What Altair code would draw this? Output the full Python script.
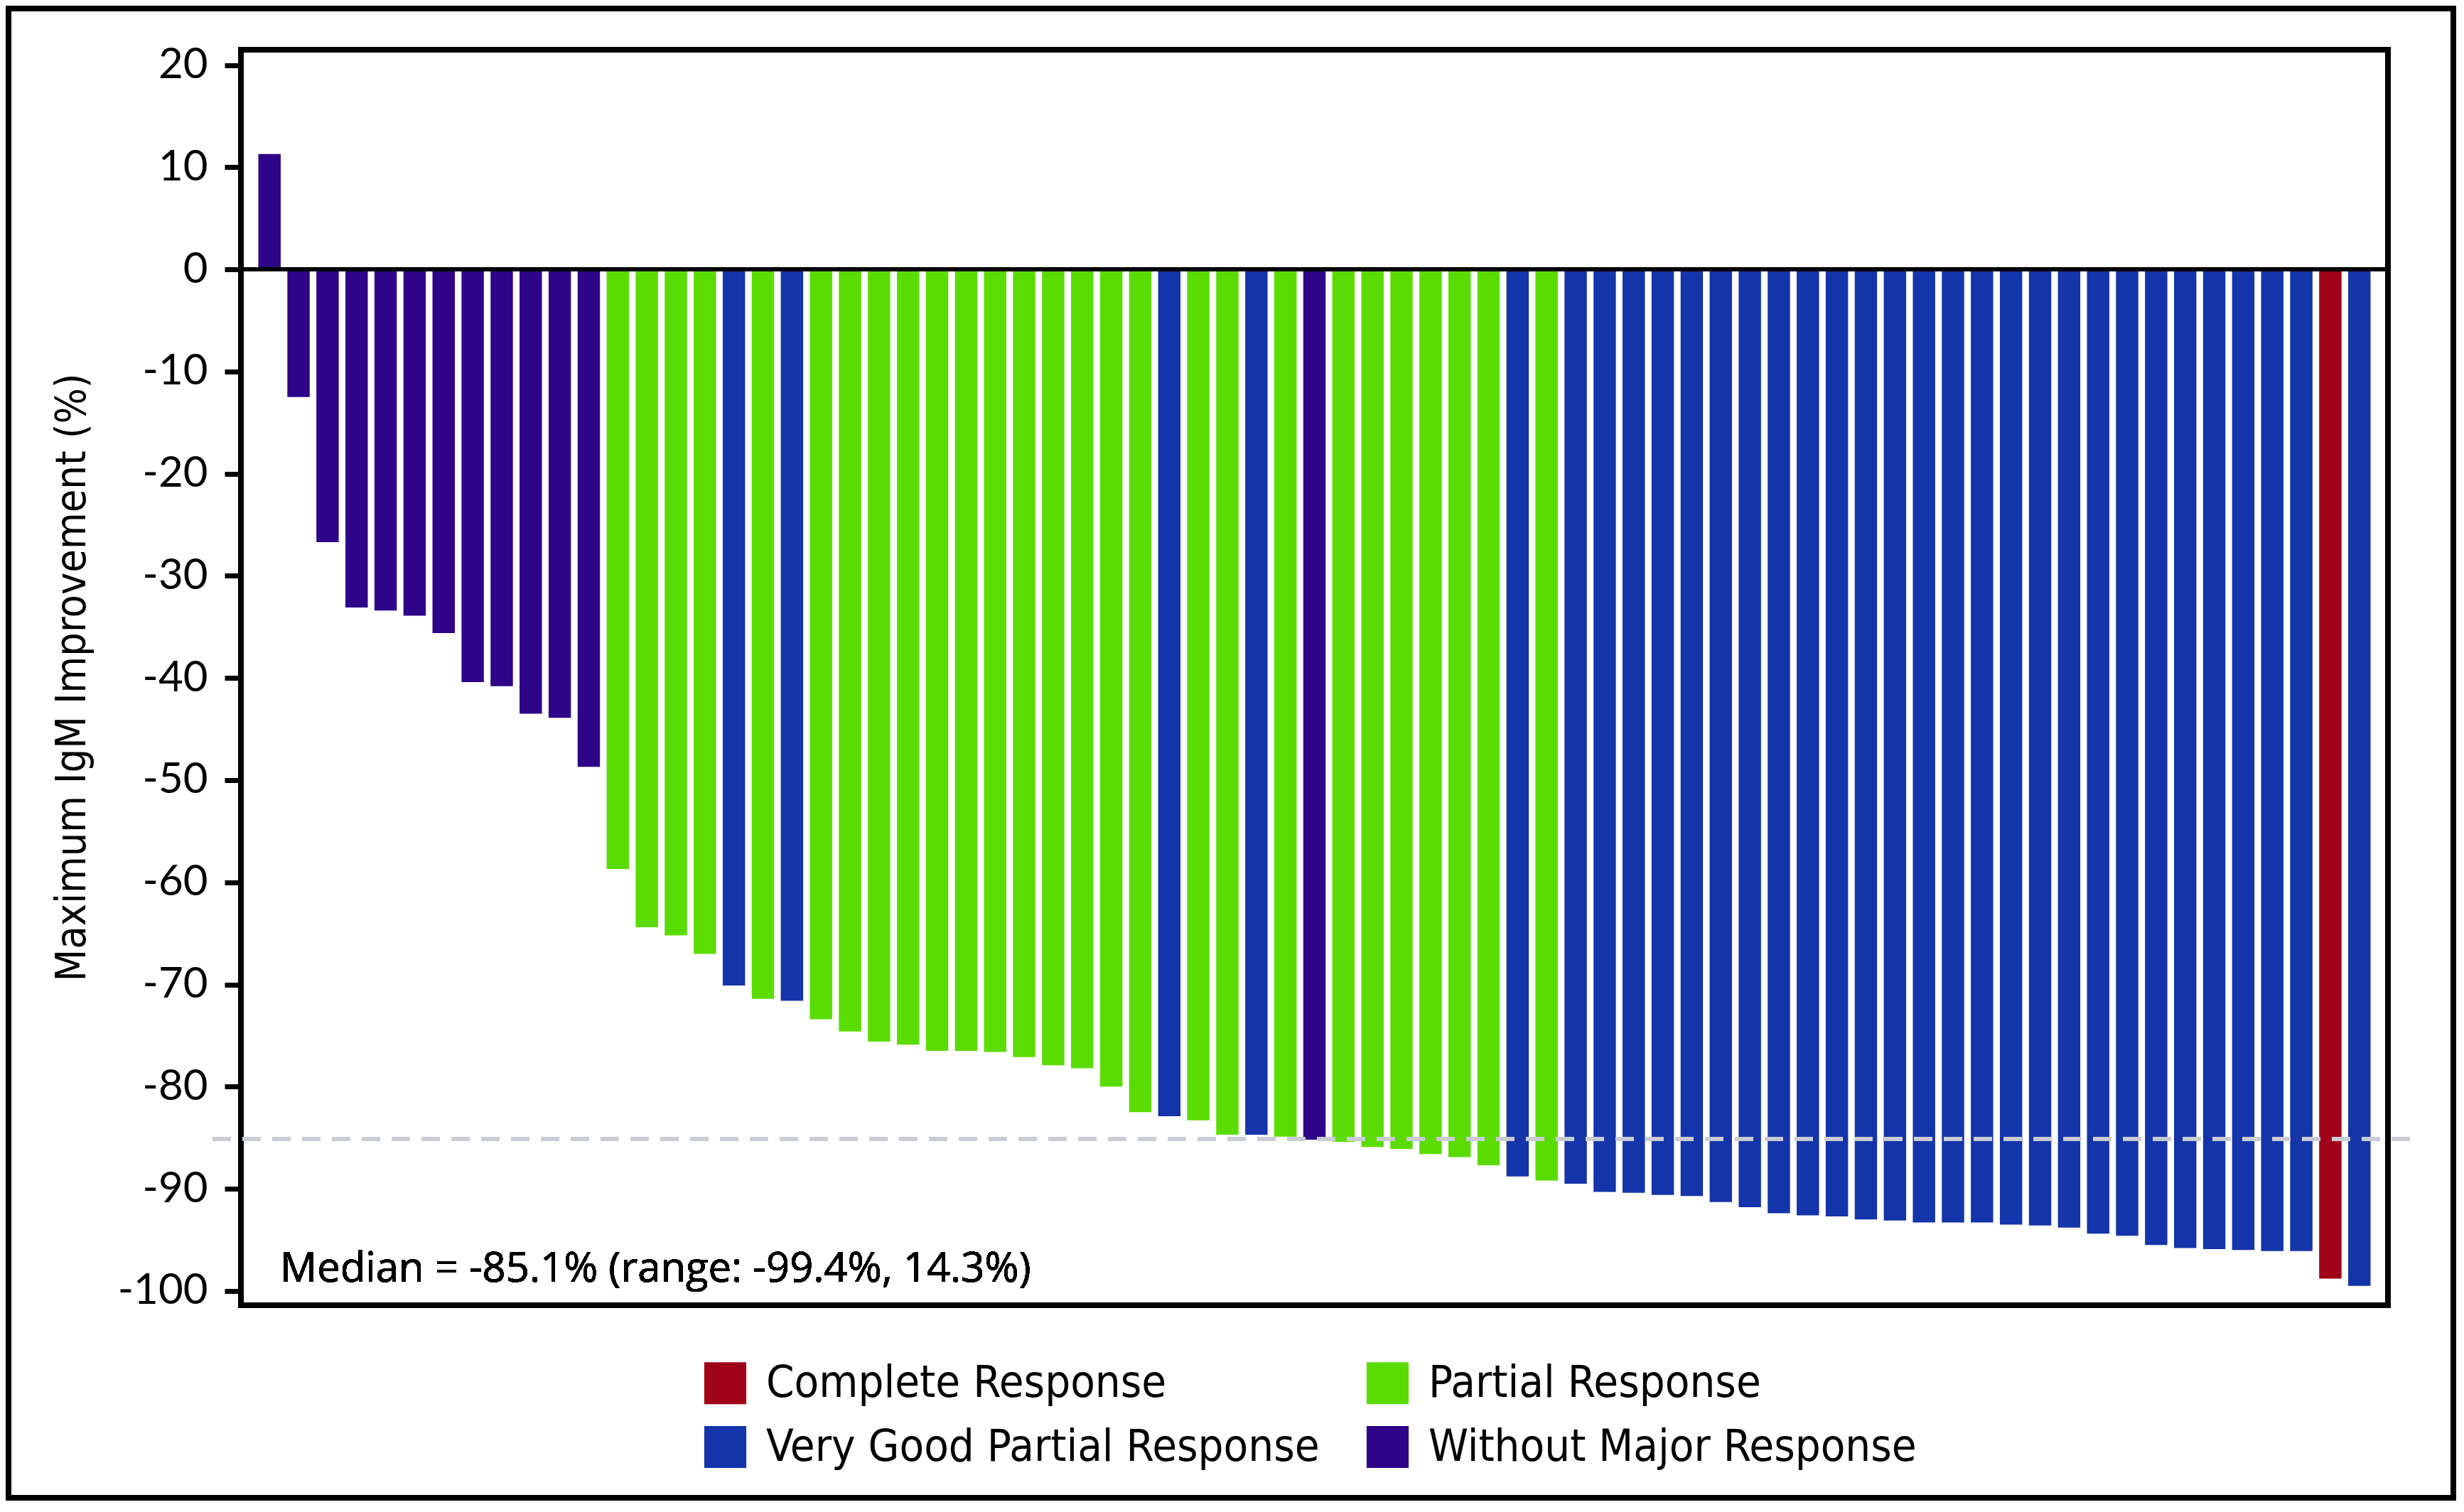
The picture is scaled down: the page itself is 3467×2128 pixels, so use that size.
import altair as alt
import pandas as pd

# ---- data ----
values = [11.3, -12.5, -26.7, -33.1, -33.4, -33.9, -35.6, -40.4, -40.8, -43.5,
          -43.9, -48.7, -58.7, -64.4, -65.2, -67.0, -70.1, -71.4, -71.6, -73.4,
          -74.6, -75.6, -75.9, -76.5, -76.5, -76.6, -77.1, -77.9, -78.2, -80.0,
          -82.5, -82.9, -83.3, -84.7, -84.7, -84.9, -85.2, -85.4, -85.9, -86.1,
          -86.6, -86.9, -87.7, -88.8, -89.2, -89.5, -90.3, -90.4, -90.6, -90.7,
          -91.3, -91.8, -92.4, -92.6, -92.7, -93.0, -93.1, -93.3, -93.3, -93.3,
          -93.5, -93.6, -93.8, -94.4, -94.6, -95.5, -95.8, -95.9, -96.0, -96.1,
          -96.1, -98.8, -99.5]

codes = (["W"] * 12 + ["P"] * 4 + ["V", "P", "V"] + ["P"] * 12 +
         ["V", "P", "P", "V", "P", "W"] + ["P"] * 6 + ["V", "P"] + ["V"] * 26 +
         ["C", "V"])

code_names = {
    "C": "Complete Response",
    "P": "Partial Response",
    "V": "Very Good Partial Response",
    "W": "Without Major Response",
}
legend_order = ["Complete Response", "Partial Response",
                "Very Good Partial Response", "Without Major Response"]
legend_colors = ["#A00018", "#5BDC00", "#1434AA", "#2E0589"]

y_ticks = [-100, -90, -80, -70, -60, -50, -40, -30, -20, -10, 0, 10, 20]
median_value = -85.1
median_label = "Median = -85.1% (range: -99.4%, 14.3%)"
y_title = "Maximum IgM Improvement (%)"

df = pd.DataFrame({
    "idx": list(range(1, len(values) + 1)),
    "value": values,
    "response": [code_names[c] for c in codes],
})

W, H = 3021, 1767
PAD_L, PAD_T = 331, 62
TOTAL_W, TOTAL_H = 3448, 2104
PAD_R = TOTAL_W - PAD_L - W
PAD_B = TOTAL_H - PAD_T - H

COND = "'Liberation Sans Narrow', 'DejaVu Sans Condensed', 'Roboto Condensed', Lato, sans-serif"
REG = "Lato, 'Noto Sans', sans-serif"
WIDE = "'Open Sans', 'Noto Sans', sans-serif"

yscale = alt.Scale(domain=[-101.4, 21.5], nice=False, zero=False)

bars = alt.Chart(df).mark_bar().encode(
    x=alt.X("idx:O", axis=None,
            scale=alt.Scale(paddingInner=0.23, paddingOuter=0.6)),
    y=alt.Y("value:Q", scale=yscale,
            axis=alt.Axis(values=y_ticks, tickSize=23, tickWidth=7,
                          tickColor="black", domain=False, grid=False,
                          labelExpr="'' + datum.value",
                          labelFont=REG, labelFontSize=60, labelColor="black",
                          labelPadding=24, title=y_title, titleFont=COND,
                          titleFontSize=59, titleFontWeight="normal",
                          titleColor="black", titleAngle=270,
                          titleX=-238, titleY=883, titleAlign="center",
                          titleBaseline="middle")),
    y2=alt.datum(0),
    color=alt.Color("response:N",
                    scale=alt.Scale(domain=legend_order, range=legend_colors),
                    legend=alt.Legend(orient="none", legendX=650, legendY=1845,
                                      columns=2, direction="horizontal",
                                      symbolType="square",
                                      symbolSize=3500, symbolStrokeWidth=0,
                                      symbolOpacity=1, labelFont=COND,
                                      labelFontSize=63, labelColor="black",
                                      labelOffset=26, columnPadding=64,
                                      rowPadding=26, title=None, padding=0,
                                      labelLimit=0)),
)

zero = alt.Chart(df).mark_rule(color="black", strokeWidth=5).encode(
    y=alt.datum(0)
)

median_rule = alt.Chart(df).mark_rule(
    color="#C9CCD3", strokeWidth=5, strokeDash=[26, 16]
).encode(
    y=alt.datum(median_value),
    x=alt.value(-40),
    x2=alt.value(W + 45),
)

median_text = alt.Chart(df).mark_text(
    align="left", baseline="alphabetic", font=WIDE, fontSize=58, color="black"
).encode(
    x=alt.value(55),
    y=alt.value(1734),
    text=alt.datum(median_label),
)

border = alt.Chart(df).mark_rect(
    filled=False, stroke="black", strokeWidth=8
).encode(
    x=alt.value(-PAD_L + 4),
    x2=alt.value(W + PAD_R - 4),
    y=alt.value(-PAD_T + 4),
    y2=alt.value(H + PAD_B - 4),
)

chart = alt.layer(bars, zero, median_rule, median_text, border).properties(
    width=W, height=H,
    autosize=alt.AutoSizeParams(type="none"),
    padding={"left": PAD_L, "top": PAD_T, "right": PAD_R, "bottom": PAD_B},
    background="white",
).configure_view(stroke="black", strokeWidth=8)

chart.save("out.html", embed_options={"renderer": "svg", "actions": False})
